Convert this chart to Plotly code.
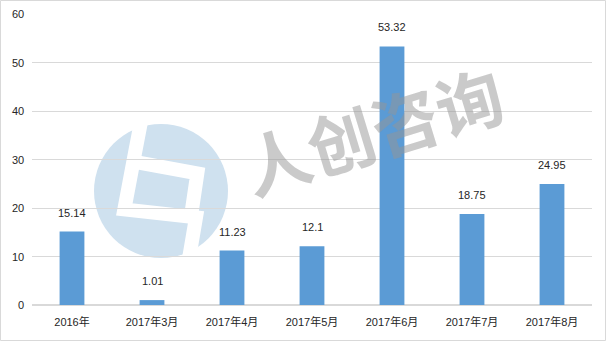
import plotly.graph_objects as go

categories = ["2016年", "2017年3月", "2017年4月", "2017年5月", "2017年6月", "2017年7月", "2017年8月"]
values = [15.14, 1.01, 11.23, 12.1, 53.32, 18.75, 24.95]
labels = ["15.14", "1.01", "11.23", "12.1", "53.32", "18.75", "24.95"]
y_ticks = [0, 10, 20, 30, 40, 50, 60]
y_tick_labels = ["0", "10", "20", "30", "40", "50", "60"]

W, H = 606, 341
L, R, T, B = 32, 14, 14, 36
PW, PH = W - L - R, H - T - B

def px(x):
    return (x - L) / PW

def py(y):
    return (H - B - y) / PH

def zx(x):
    return px(90 + x / 3)

def zy(y):
    return py(110 + y / 3)

font = "Liberation Sans, Noto Sans CJK SC, sans-serif"

fig = go.Figure(go.Bar(
    x=categories, y=values,
    marker=dict(color="#5b9bd5", line=dict(width=0)), width=0.31,
))

label_ann = [dict(x=c, y=v, text=t, xref="x", yref="y", showarrow=False,
                  yanchor="bottom", yshift=11,
                  font=dict(size=11, color="#262626", family=font))
             for c, v, t in zip(categories, values, labels)]

ytick_ann = [dict(x=0, y=v, text=t, xref="paper", yref="y", showarrow=False,
                  xanchor="right", yanchor="middle", xshift=-6,
                  font=dict(size=11, color="#262626", family=font))
             for v, t in zip(y_ticks, y_tick_labels)]

def path(pts):
    return "M " + " L ".join(f"{zx(a)} {zy(b)}" for a, b in pts)

shapes = [
    # watermark circle
    dict(type="circle", xref="paper", yref="paper", layer="below",
         x0=px(94), x1=px(228), y0=py(258), y1=py(124),
         fillcolor="#cfe1ef", line=dict(width=0)),
    # white logo strokes
    dict(type="path", xref="paper", yref="paper", layer="below",
         path=path([(152, 40), (130, 155), (103, 298), (318, 322), (298, 440)]),
         line=dict(color="white", width=14)),
    dict(type="path", xref="paper", yref="paper", layer="below",
         path=path([(130, 155), (322, 190), (305, 305)]),
         line=dict(color="white", width=14)),
    # outer border
    dict(type="rect", xref="paper", yref="paper", layer="above",
         x0=px(0.5), x1=px(605.5), y0=py(340.5), y1=py(0.5),
         line=dict(color="#d9d9d9", width=1), fillcolor="rgba(0,0,0,0)"),
]

fig.update_layout(
    width=W, height=H, margin=dict(l=L, r=R, t=T, b=B),
    paper_bgcolor="white", plot_bgcolor="rgba(0,0,0,0)",
    showlegend=False, shapes=shapes,
    font=dict(family=font, size=11, color="#262626"),
    annotations=label_ann + ytick_ann + [dict(text="人创咨询", xref="paper", yref="paper",
                      x=px(372), y=py(128), showarrow=False, textangle=-17,
                      font=dict(size=67, color="rgba(150,150,150,0.5)",
                                family="Noto Sans CJK SC", weight=700))],
)
fig.update_xaxes(showgrid=False, showline=False, ticks="", ticklabelstandoff=9,
                 tickfont=dict(size=11, color="#262626"))
fig.update_yaxes(range=[0, 60], tickvals=y_ticks, showticklabels=False, showgrid=True,
                 gridcolor="#d9d9d9", gridwidth=1, zeroline=True, zerolinecolor="#d9d9d9",
                 showline=False, ticks="")

fig.write_html("out.html")
